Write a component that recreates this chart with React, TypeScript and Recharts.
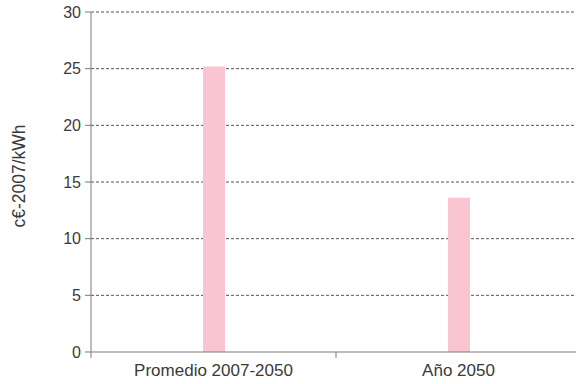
import { BarChart, Bar, XAxis, YAxis, CartesianGrid } from 'recharts'

const categories = ['Promedio 2007-2050', 'Año 2050']
const costValues = [25.2, 13.6]
const yTicks = [0, 5, 10, 15, 20, 25, 30]

const data = categories.map((name, i) => ({ name, cost: costValues[i] }))

const font = '"Liberation Sans", Arial, sans-serif'
const axisGray = '#7a7a7a'
const textGray = '#3a3a3a'

// category label plus a tick mark on the left boundary of its band
function CategoryTick(props: any) {
  const { x, y, payload } = props
  const half = payload?.offset ?? 0
  const edge = x - half
  return (
    <g>
      <line x1={edge} x2={edge} y1={y - 10} y2={y - 4} stroke={axisGray} />
      <text x={x} y={y + 2} dy="0.71em" textAnchor="middle" fill={textGray} fontSize={17}>
        {payload.value}
      </text>
    </g>
  )
}

export default function App() {
  return (
    <div style={{ position: 'fixed', left: 0, top: 0, width: 576, height: 384, overflow: 'hidden', background: '#fff' }}>
      <BarChart
        width={581}
        height={384}
        data={data}
        margin={{ top: 12, right: 0, bottom: 0, left: 0 }}
        style={{ fontFamily: font }}
      >
        <CartesianGrid vertical={false} strokeDasharray="3 2" stroke="#555" horizontalValues={yTicks.filter(t => t > 0)} />
        <XAxis
          dataKey="name"
          stroke={axisGray}
          tickLine={false}
          tickSize={6}
          tickMargin={4}
          height={32}
          interval={0}
          tick={<CategoryTick />}
        />
        <YAxis
          domain={[0, 30]}
          ticks={yTicks}
          interval={0}
          width={91}
          stroke={axisGray}
          tickSize={6}
          tickMargin={4}
          tick={{ fill: textGray, fontSize: 16 }}
          label={{ value: 'c€-2007/kWh', angle: -90, position: 'insideLeft', dx: 14, dy: -6, fill: textGray, fontSize: 17.5, style: { textAnchor: 'middle' } }}
        />
        <Bar dataKey="cost" fill="#f9c5d1" barSize={22} isAnimationActive={false} />
      </BarChart>
    </div>
  )
}
